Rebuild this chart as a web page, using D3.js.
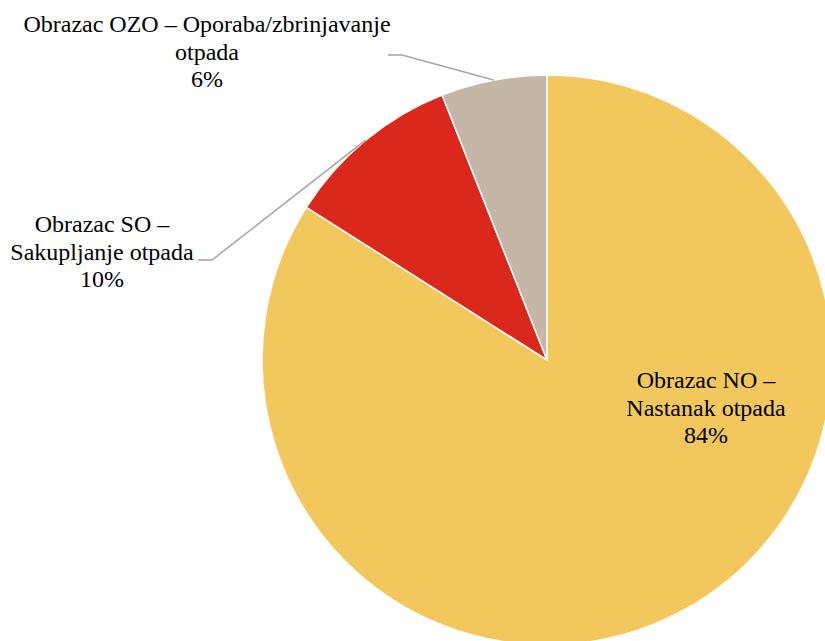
<!DOCTYPE html>
<html>
<head>
<meta charset="utf-8">
<script src="https://cdn.jsdelivr.net/npm/d3@7"></script>
<style>
  html, body { margin: 0; padding: 0; background: #fff; }
  svg { display: block; }
</style>
</head>
<body>
<div id="chart"></div>
<script>
const categories = ['Obrazac NO – Nastanak otpada', 'Obrazac SO – Sakupljanje otpada', 'Obrazac OZO – Oporaba/zbrinjavanje otpada'];
const values = [84, 10, 6];
const labelLines = [
  ['Obrazac NO –', 'Nastanak otpada'],
  ['Obrazac SO –', 'Sakupljanje otpada'],
  ['Obrazac OZO – Oporaba/zbrinjavanje', 'otpada']
];
const colors = ['#F2C75C', '#DA291C', '#C4B7A8'];

const width = 825, height = 641;
const cx = 547, cy = 360, radius = 285;
const lineH = 27.5;
const fontFamily = "'Liberation Serif', 'Times New Roman', Tinos, 'DejaVu Serif', serif";

// label layout: anchor x, first baseline, and leader line elbow/end (null = inside)
const labelLayout = [
  { x: 706, y: 388, leader: null },
  { x: 102, y: 232, leader: { elbow: [212, 260], end: [198, 260] } },
  { x: 207, y: 32, leader: { elbow: [402, 55], end: [388, 55] } }
];

const data = categories.map((c, i) => ({ name: c, value: values[i], lines: labelLines[i], color: colors[i], layout: labelLayout[i] }));

const svg = d3.select('#chart').append('svg')
  .attr('width', width)
  .attr('height', height);

const pie = d3.pie().value(d => d.value).sort(null);
const arc = d3.arc().innerRadius(0).outerRadius(radius);

const g = svg.append('g').attr('transform', `translate(${cx},${cy})`);

const arcs = pie(data);

g.selectAll('path.slice')
  .data(arcs)
  .enter().append('path')
  .attr('class', 'slice')
  .attr('d', arc)
  .attr('fill', d => d.data.color)
  .attr('stroke', '#fff')
  .attr('stroke-width', 1.5);

// leader lines
arcs.forEach(d => {
  const lead = d.data.layout.leader;
  if (!lead) return;
  const mid = (d.startAngle + d.endAngle) / 2;
  const px = cx + radius * Math.sin(mid);
  const py = cy - radius * Math.cos(mid);
  svg.append('polyline')
    .attr('points', [[px, py], lead.elbow, lead.end].map(p => p.join(',')).join(' '))
    .attr('fill', 'none')
    .attr('stroke', '#A6A6A6')
    .attr('stroke-width', 1.5);
});

// labels
arcs.forEach(d => {
  const lay = d.data.layout;
  const t = svg.append('text')
    .attr('text-anchor', 'middle')
    .attr('font-family', fontFamily)
    .attr('font-size', 24)
    .attr('fill', '#000');
  const lines = d.data.lines.concat([d.data.value + '%']);
  lines.forEach((ln, i) => {
    t.append('tspan')
      .attr('x', lay.x)
      .attr('y', lay.y + i * lineH)
      .text(ln);
  });
});
</script>
</body>
</html>
